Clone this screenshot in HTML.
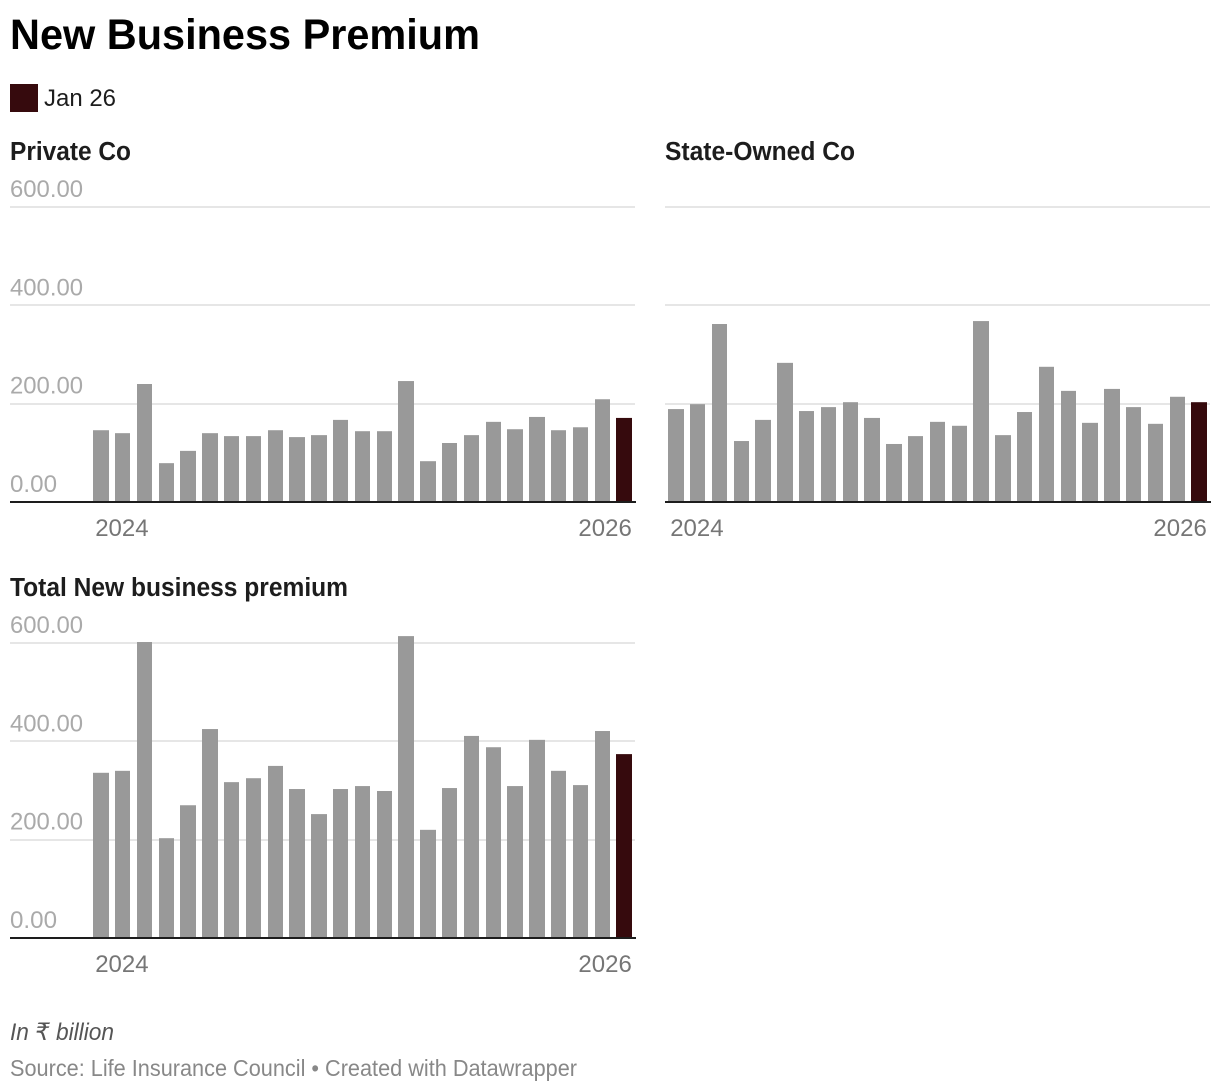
<!DOCTYPE html>
<html lang="en">
<head>
<meta charset="utf-8">
<title>New Business Premium</title>
<style>
html,body{margin:0;padding:0;background:#fff;}
body{width:1220px;height:1092px;overflow:hidden;font-family:"Liberation Sans","DejaVu Sans",sans-serif;}
svg{display:block;}
text{font-family:"Liberation Sans","DejaVu Sans",sans-serif;}
</style>
</head>
<body>
<svg id="chart" width="1220" height="1092" viewBox="0 0 1220 1092" xmlns="http://www.w3.org/2000/svg">
  <rect x="0" y="0" width="1220" height="1092" fill="#ffffff"/>
  <text x="10" y="49" font-size="43" font-weight="700" fill="#000000" textLength="470" lengthAdjust="spacingAndGlyphs">New Business Premium</text>
  <rect x="10" y="84" width="28" height="28" fill="#360a0d"/>
  <text x="44" y="106" font-size="24" fill="#1d1d1d" textLength="72" lengthAdjust="spacingAndGlyphs">Jan 26</text>
  <text x="10" y="1040" font-size="24" font-style="italic" fill="#555555" textLength="104" lengthAdjust="spacingAndGlyphs">In ₹ billion</text>
  <text x="10" y="1076" font-size="23" fill="#888888" textLength="567" lengthAdjust="spacingAndGlyphs">Source: Life Insurance Council • Created with Datawrapper</text>
</svg>
<script>
const categories = ["Jan 24","Feb 24","Mar 24","Apr 24","May 24","Jun 24","Jul 24","Aug 24","Sep 24","Oct 24","Nov 24","Dec 24","Jan 25","Feb 25","Mar 25","Apr 25","May 25","Jun 25","Jul 25","Aug 25","Sep 25","Oct 25","Nov 25","Dec 25","Jan 26"];
const privateCo = [146,140,240,79,104,140,134,134,146,132,136,167,144,144,246,83,120,136,163,148,173,146,152,209,171];
const stateOwnedCo = [189,199,362,124,167,283,185,193,203,171,118,134,163,155,368,136,183,275,226,161,230,193,159,214,203];
const totalPremium = [336,340,602,203,270,425,317,325,350,303,252,303,309,299,614,220,305,411,388,309,403,340,311,421,374];
const yTicks = [0,200,400,600];
const yTickLabels = ["0.00","200.00","400.00","600.00"];
const xTickLabels = ["2024","2026"];
const xTickCategories = ["Jan 24","Jan 26"];

const svg = document.getElementById('chart');
const NS = 'http://www.w3.org/2000/svg';
const UNIT_PX = 295 / 600;
const STEP = 21.8;
const BAR_W = 15.4;
const HIGHLIGHT = 'Jan 26';

function make(tag, attrs, parent) {
  const el = document.createElementNS(NS, tag);
  for (const k in attrs) el.setAttribute(k, attrs[k]);
  parent.appendChild(el);
  return el;
}
function yScale(v, base) { return base - v * UNIT_PX; }
function xScale(cat, first) { return first + categories.indexOf(cat) * STEP; }

function drawPanel(slug, title, titleWidth, values, left, right, firstBar, base, showYLabels) {
  const g = make('g', {}, svg);
  
  

  const t = make('text', {x: left, y: base - 342, 'font-size': 25.5, 'font-weight': 700, fill: '#1d1d1d', textLength: titleWidth, lengthAdjust: 'spacingAndGlyphs'}, g);
  
  
  t.textContent = title;

  yTicks.forEach(function (tick, i) {
    if (tick !== 0) {
      const gy = yScale(tick, base);
      const grid = make('rect', {x: left, y: Math.round(gy) - 1, width: right - left, height: 2, fill: '#e6e6e6'}, g);
      
      
    }
    if (showYLabels) {
      const label = make('text', {x: left, y: yScale(tick, base) - 10, 'font-size': 24, fill: '#aaaaaa', textLength: yTickLabels[i].length === 4 ? 47 : 73, lengthAdjust: 'spacingAndGlyphs'}, g);
      
      
      label.textContent = yTickLabels[i];
    }
  });

  values.forEach(function (v, i) {
    const cat = categories[i];
    const x0 = Math.round(xScale(cat, firstBar));
    const x1 = Math.round(xScale(cat, firstBar) + BAR_W);
    const top = yScale(v, base);
    const bar = make('rect', {x: x0, y: top, width: x1 - x0, height: base - top, fill: cat === HIGHLIGHT ? '#360a0d' : '#999999'}, g);
    
    
  });

  const axis = make('rect', {x: left, y: base - 1, width: right - left + 1, height: 2, fill: '#1d1d1d'}, g);
  
  

  xTickLabels.forEach(function (lab, i) {
    const px = xScale(xTickCategories[i], firstBar);
    const isLast = i === xTickLabels.length - 1;
    const tx = isLast ? px + BAR_W : px + 2;
    const tick = make('text', {x: tx, y: base + 34, 'font-size': 24, fill: '#767676', 'text-anchor': isLast ? 'end' : 'start'}, g);
    
    
    tick.textContent = lab;
  });
}

drawPanel('private-co', 'Private Co', 121, privateCo, 10, 635, 93.2, 502, true);
drawPanel('state-owned-co', 'State-Owned Co', 190, stateOwnedCo, 665, 1210, 668.2, 502, false);
drawPanel('total-premium', 'Total New business premium', 338, totalPremium, 10, 635, 93.2, 938, true);
</script>
</body>
</html>
